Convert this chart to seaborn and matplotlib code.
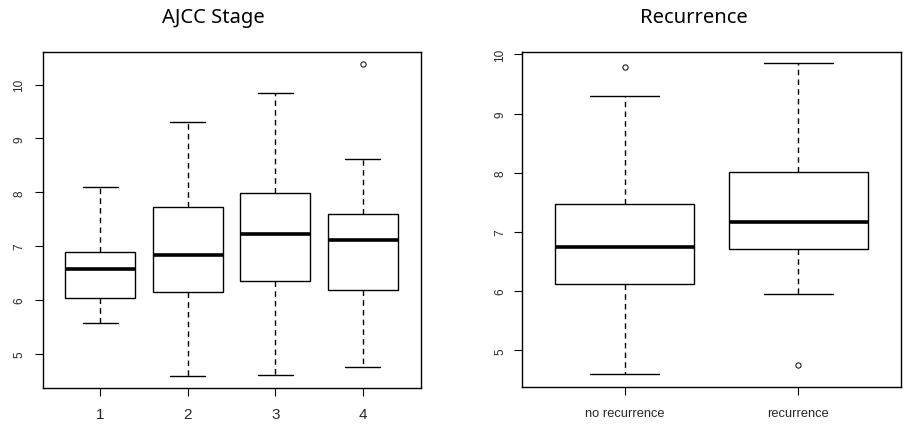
import numpy as np
import pandas as pd
import seaborn as sns
import matplotlib
matplotlib.use("Agg")
import matplotlib.pyplot as plt

# ---- data (five-number summaries) ----
stage_labels = ["1", "2", "3", "4"]
stage_low = [5.57, 4.59, 4.61, 4.75]
stage_q1 = [6.03, 6.15, 6.35, 6.19]
stage_med = [6.58, 6.84, 7.23, 7.11]
stage_q3 = [6.90, 7.72, 7.98, 7.60]
stage_high = [8.09, 9.30, 9.84, 8.61]
stage_out_group = ["4"]
stage_out_value = [10.38]

rec_labels = ["no recurrence", "recurrence"]
rec_low = [4.60, 5.96]
rec_q1 = [6.12, 6.72]
rec_med = [6.74, 7.17]
rec_q3 = [7.48, 8.02]
rec_high = [9.30, 9.85]
rec_out_group = ["no recurrence", "recurrence"]
rec_out_value = [9.78, 4.76]

sns.set_theme(style="white")
plt.rcParams["font.family"] = ["Liberation Sans", "DejaVu Sans"]

fig = plt.figure(figsize=(9.13, 4.31), dpi=100)
axL = fig.add_axes([0.0468, 0.0967, 0.414, 0.7796])
axR = fig.add_axes([0.572, 0.099, 0.4145, 0.7787])


def draw(ax, labels, low, q1, med, q3, high, og, ov):
    vals = np.column_stack([low, q1, med, q3, high]).ravel()
    df = pd.DataFrame({"group": np.repeat(labels, 5), "value": vals})
    sns.boxplot(data=df, x="group", y="value", order=labels, ax=ax,
                whis=(0, 100), width=0.8, color="white", linecolor="black",
                linewidth=1.0, fliersize=0, saturation=1,
                whiskerprops=dict(linestyle=(0, (4, 3))),
                medianprops=dict(linewidth=2.6))
    out = pd.DataFrame({"group": og, "value": ov})
    sns.stripplot(data=out, x="group", y="value", order=labels, ax=ax,
                  jitter=False, color="white", edgecolor="black",
                  linewidth=0.7, size=3.8, marker="o", zorder=5)
    ax.set_xlabel("")
    ax.set_ylabel("")
    for s in ax.spines.values():
        s.set_visible(True)
        s.set_color("black")
        s.set_linewidth(1.0)
    ax.tick_params(axis="both", direction="out", length=5.5, width=0.8,
                   color="black", left=True, bottom=True)
    ax.set_yticks([5, 6, 7, 8, 9, 10])


draw(axL, stage_labels, stage_low, stage_q1, stage_med, stage_q3, stage_high,
     stage_out_group, stage_out_value)
axL.set_xlim(-0.66, 3.66)
axL.set_ylim(4.36, 10.60)
axL.tick_params(axis="x", labelsize=11, pad=8)
axL.tick_params(axis="y", labelsize=8.5, pad=7)
for t in axL.get_yticklabels():
    t.set_rotation(90)
    t.set_va("center")

draw(axR, rec_labels, rec_low, rec_q1, rec_med, rec_q3, rec_high,
     rec_out_group, rec_out_value)
axR.set_xlim(-0.589, 1.589)
axR.set_ylim(4.375, 10.045)
axR.tick_params(axis="x", labelsize=9.3, pad=9)
axR.tick_params(axis="y", labelsize=8.5, pad=6)
for t in axR.get_yticklabels():
    t.set_rotation(90)
    t.set_va("center")

fig.text(213.5 / 913, 1 - 18 / 431, "AJCC Stage", ha="center", va="center",
         fontsize=14.5, family=["Noto Sans", "DejaVu Sans"], color="black")
fig.text(693.5 / 913, 1 - 18 / 431, "Recurrence", ha="center", va="center",
         fontsize=14.5, family=["Noto Sans", "DejaVu Sans"], color="black")

fig.savefig("out.png", dpi=100, facecolor="white")
